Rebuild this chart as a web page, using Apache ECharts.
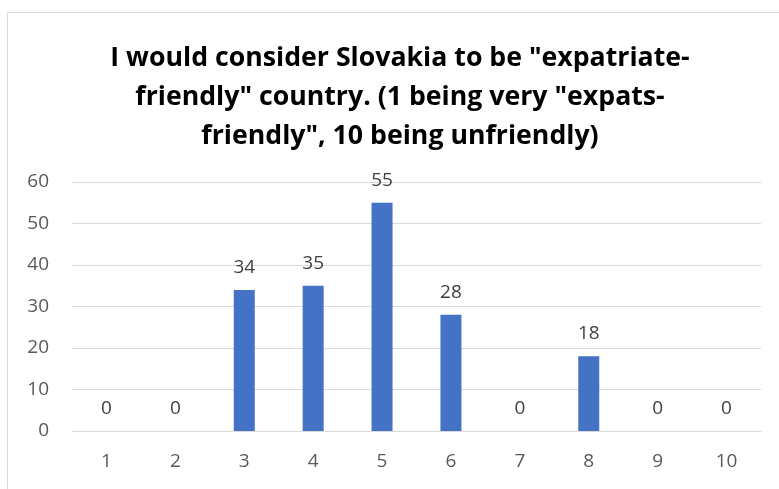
<!DOCTYPE html>
<html><head><meta charset="utf-8">
<script src="https://cdn.jsdelivr.net/npm/echarts@6/dist/echarts.min.js"></script>
<style>html,body{margin:0;padding:0;background:#fff}#c{width:779px;height:489px}</style>
</head><body><div id="c"></div>
<script>
var titleText = 'I would consider Slovakia to be "expatriate-\nfriendly" country. (1 being very "expats-\nfriendly", 10 being unfriendly)';
var categories = ['1','2','3','4','5','6','7','8','9','10'];
var values = [0,0,34,35,55,28,0,18,0,0];
var yTicks = {min:0, max:60, interval:10};

var chart = echarts.init(document.getElementById('c'));
var font = 'Open Sans';
chart.setOption({
  animation:false,
  backgroundColor:'#fff',
  graphic:[{type:'rect', shape:{x:7.5,y:12.5,width:800,height:500}, style:{fill:'none', stroke:'#d9d9d9', lineWidth:1}, silent:true, z:-1}],
  title:{
    text:titleText, left:400, textAlign:'center', top:39, padding:0,
    textStyle:{fontFamily:font, fontWeight:'bold', fontSize:26.7, lineHeight:39, color:'#000'}
  },
  grid:{left:72, right:18, top:182, bottom:58, containLabel:false},
  xAxis:{type:'category', data:categories,
    axisLine:{show:true, lineStyle:{color:'#d9d9d9', width:1}},
    axisTick:{show:false},
    axisLabel:{fontFamily:font, fontSize:19, color:'#595959', margin:21}
  },
  yAxis:{type:'value', min:yTicks.min, max:yTicks.max, interval:yTicks.interval,
    axisLine:{show:false}, axisTick:{show:false},
    splitLine:{lineStyle:{color:'#d9d9d9', width:1}},
    axisLabel:{fontFamily:font, fontSize:19, color:'#595959', margin:23}
  },
  series:[{type:'bar', data:values, barWidth:21,
    itemStyle:{color:'#4472c4'},
    label:{show:true, position:'top', distance:13, fontFamily:font, fontSize:19, color:'#404040'}
  }]
});
</script></body></html>
